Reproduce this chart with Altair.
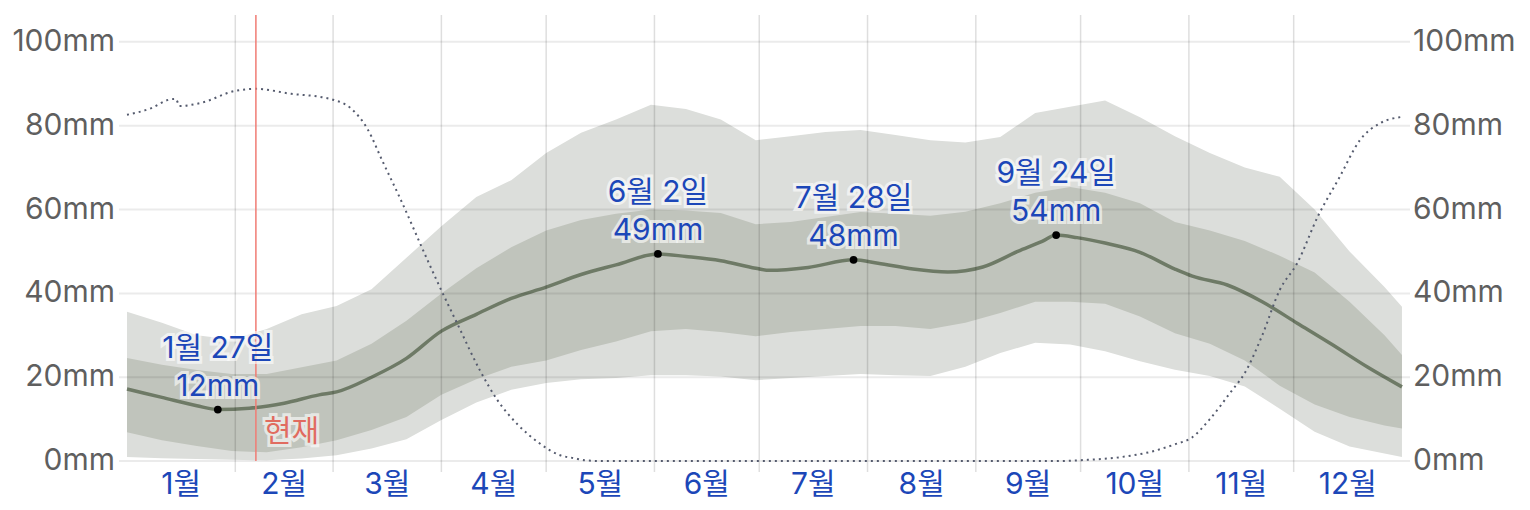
import altair as alt
import pandas as pd

# ---- data ----
band_days = [0, 10, 20, 30, 40, 50, 60, 70, 80, 90, 100, 110, 120, 130, 140, 150, 160, 170, 180,
             190, 200, 210, 220, 230, 240, 250, 260, 270, 280, 290, 300, 310, 320, 330, 340, 350, 360, 365]
p90 = [35.6, 33, 30, 29, 31.5, 35, 37, 41, 48.5, 56, 63, 67, 73.5, 78.3, 81.5, 85, 84, 81.5, 76.5,
       77.5, 78.5, 79, 77.8, 76.5, 76, 77.3, 83, 84.5, 86, 82, 77.5, 73.5, 70, 67.8, 60, 50, 41.5, 36.8]
p75 = [24.6, 23, 21.7, 20.8, 20.8, 22.4, 24, 28, 33.5, 40, 46, 51, 55, 57.5, 59, 60, 59.8, 59.2, 56.5,
       57, 58.2, 59.4, 59, 58.5, 59.5, 61.5, 64, 65.4, 64, 61.5, 57, 55, 52.5, 49, 45, 38, 30, 25.3]
p25 = [6.9, 5, 3.6, 2.4, 2.1, 3.3, 5, 7.4, 10.5, 15.8, 19.5, 22.5, 24, 26.5, 28.5, 31, 31.5, 30.8, 29.8,
       30.8, 31.5, 32.2, 32.2, 31.5, 33, 35.3, 38, 38, 37.5, 34.5, 30.5, 28, 24, 18, 13.5, 10.5, 8.5, 7.8]
p10 = [1, 0.7, 0.5, 0.3, 0.2, 0.6, 1.4, 3, 5.2, 9.8, 14, 17, 18.6, 19.5, 19.8, 20.5, 20.5, 20.2, 19.3,
       19.8, 20.3, 20.8, 20.5, 20.3, 22.5, 25.8, 28.2, 27.8, 26.2, 23.8, 21.8, 20.3, 17.8, 12.5, 7, 3.5, 1.8, 1]

med_days = [0, 10, 20, 26, 35, 45, 55, 60, 70, 80, 90, 100, 110, 120, 130, 140, 152, 160, 170, 180,
            184, 195, 208, 215, 225, 235, 245, 255, 262, 266, 272, 280, 290, 300, 305, 315, 325, 335,
            345, 355, 365]
med_vals = [17.2, 15.2, 13.2, 12.3, 12.6, 13.8, 15.8, 16.5, 20, 24.5, 31, 35, 38.8, 41.5, 44.5, 46.8,
            49.4, 48.8, 47.8, 46, 45.5, 46.2, 48, 47.2, 45.8, 45.1, 46.3, 50, 52.4, 53.9, 53.3, 52,
            49.8, 45.8, 44.1, 42, 38, 32.9, 27.8, 22.5, 17.7]

dot_days = [0, 7, 12, 14, 15, 21, 31, 37, 47, 55, 59, 64, 69, 73, 78, 86, 89, 95, 101, 106, 112,
            118, 121, 124, 128, 131, 136, 265, 275, 285, 293, 300, 305, 310, 316, 320, 325, 330,
            335, 341, 347, 353, 359, 365]
dot_vals = [82.6, 84.2, 86.2, 86.4, 84.7, 85.4, 88.3, 88.8, 87.6, 86.9, 86.2, 84.2, 79, 71.8, 63, 48,
            42.5, 32, 21.7, 14.6, 8.6, 4.3, 2.6, 1.4, 0.7, 0.2, 0, 0, 0.3, 1, 2.2, 4, 5.7, 10, 16.5,
            21, 30, 40.8, 47.2, 58.5, 67.5, 76.6, 80.7, 82.1]

month_names = ["1월", "2월", "3월", "4월", "5월", "6월", "7월", "8월", "9월", "10월", "11월", "12월"]
month_mid_days = [15.5, 45, 74.5, 105, 135.5, 166, 196.5, 227.5, 258, 288.5, 319, 349.5]
month_start_days = [31, 59, 90, 120, 151, 181, 212, 243, 273, 304, 334]

ann_days = [26, 152, 208, 266]
ann_vals = [12.3, 49.4, 48.0, 53.9]
ann_dates = ["1월 27일", "6월 2일", "7월 28일", "9월 24일"]
ann_amounts = ["12mm", "49mm", "48mm", "54mm"]

grid_vals = [0, 20, 40, 60, 80, 100]
grid_labels = ["0mm", "20mm", "40mm", "60mm", "80mm", "100mm"]
now_day = 36.9
now_label = "현재"

# ---- tables ----
XMIN, XMAX = -2.29, 367.3
YMIN, YMAX = -2.6, 106.4
MONTH_Y = -5.8
NOW_TXT_Y = 7

bands = pd.DataFrame({"day": band_days, "p10": p10, "p25": p25, "p75": p75, "p90": p90})
med = pd.DataFrame({"day": med_days, "v": med_vals})
dots = pd.DataFrame({"day": dot_days, "v": dot_vals})
months = pd.DataFrame({"day": month_mid_days, "name": month_names})
months["y"] = MONTH_Y
mstarts = pd.DataFrame({"day": month_start_days})
mstarts["y0"] = YMIN
mstarts["y1"] = YMAX
ann = pd.DataFrame({"day": ann_days, "v": ann_vals, "date": ann_dates, "amt": ann_amounts})
grid = pd.DataFrame({"v": grid_vals, "label": grid_labels})
grid["x0"] = XMIN
grid["x1"] = XMAX
now = pd.DataFrame({"day": [now_day], "label": [now_label]})
now["y0"] = 0.0
now["y1"] = YMAX
now["ty"] = NOW_TXT_Y

xs = alt.Scale(domain=[XMIN, XMAX], nice=False, zero=False)
ys = alt.Scale(domain=[YMIN, YMAX], nice=False, zero=False)

FONT = "Inter, Noto Sans CJK KR, sans-serif"
BLUE = "#1c47b8"
GRAY = "#5f5f5f"
TXT = 30
AXTXT = 30


def X(f="day"):
    return alt.X(f"{f}:Q", scale=xs, axis=None)


def Y(f):
    return alt.Y(f"{f}:Q", scale=ys, axis=None)


light = alt.Chart(bands).mark_area(color="#dcdedb", opacity=1).encode(
    x=X(), y=Y("p10"), y2="p90:Q")
dark = alt.Chart(bands).mark_area(color="#c0c4bc", opacity=1).encode(
    x=X(), y=Y("p25"), y2="p75:Q")
hgrid = alt.Chart(grid).mark_rule(color="black", opacity=0.08, strokeWidth=2).encode(
    x=X("x0"), x2="x1:Q", y=Y("v"))
vgrid = alt.Chart(mstarts).mark_rule(color="black", opacity=0.13, strokeWidth=1.5).encode(
    x=X(), y=Y("y1"), y2="y0:Q")
medline = alt.Chart(med).mark_line(color="#6e7a66", strokeWidth=3.5, interpolate="monotone").encode(
    x=X(), y=Y("v"))
dotted = alt.Chart(dots).mark_line(color="#555b6e", strokeWidth=2, strokeDash=[2, 4],
                                   interpolate="monotone").encode(x=X(), y=Y("v"))
nowline = alt.Chart(now).mark_rule(color="#f07c74", strokeWidth=1.5).encode(
    x=X(), y=Y("y1"), y2="y0:Q")
pts = alt.Chart(ann).mark_circle(color="black", opacity=1, size=60).encode(x=X(), y=Y("v"))


def txt(field, dy, halo):
    kw = dict(font=FONT, fontSize=TXT, align="center", baseline="middle", dy=dy)
    if halo:
        m = alt.Chart(ann).mark_text(color="white", stroke="white", strokeWidth=6,
                                     strokeOpacity=0.6, fillOpacity=0.6, **kw)
    else:
        m = alt.Chart(ann).mark_text(color=BLUE, **kw)
    return m.encode(x=X(), y=Y("v"), text=f"{field}:N")


nowkw = dict(font=FONT, fontSize=TXT, align="left", baseline="middle", dx=8)
now_halo = alt.Chart(now).mark_text(color="white", stroke="white", strokeWidth=6,
                                    strokeOpacity=0.6, fillOpacity=0.6, **nowkw).encode(
    x=X(), y=Y("ty"), text="label:N")
now_txt = alt.Chart(now).mark_text(color="#e06c60", **nowkw).encode(
    x=X(), y=Y("ty"), text="label:N")

mlabels = alt.Chart(months).mark_text(color=BLUE, font=FONT, fontSize=TXT, align="center",
                                      baseline="middle").encode(
    x=X(), y=Y("y"), text="name:N")

ylab_left = alt.Chart(grid).mark_text(color=GRAY, font=FONT, fontSize=AXTXT, align="right",
                                      baseline="middle", dx=-4).encode(
    x=X("x0"), y=Y("v"), text="label:N")
ylab_right = alt.Chart(grid).mark_text(color=GRAY, font=FONT, fontSize=AXTXT, align="left",
                                       baseline="middle", dx=3).encode(
    x=X("x1"), y=Y("v"), text="label:N")

chart = alt.layer(
    light, dark, medline, hgrid, vgrid, dotted, nowline, pts,
    txt("date", -61, True), txt("amt", -23, True),
    txt("date", -61, False), txt("amt", -23, False),
    now_halo, now_txt, mlabels, ylab_left, ylab_right,
).properties(
    width=1291, height=457,
    autosize=alt.AutoSizeParams(type="none"),
    padding={"left": 111, "top": 7, "right": 110, "bottom": 30},
    background="white",
).configure_view(stroke=None)

chart.save("out.html", embed_options={"renderer": "svg", "actions": False})
